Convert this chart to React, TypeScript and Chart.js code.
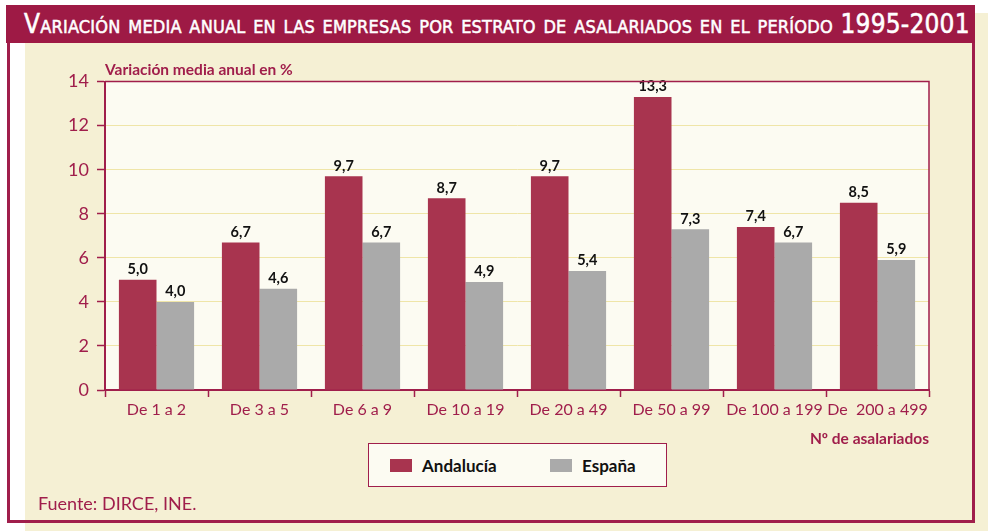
import React, { useEffect, useRef } from "react";
import { Chart, registerables } from "chart.js";

Chart.register(...registerables);

const categories = ["De 1 a 2", "De 3 a 5", "De 6 a 9", "De 10 a 19", "De 20 a 49", "De 50 a 99", "De 100 a 199", "De  200 a 499"];
const andalucia = [5.0, 6.7, 9.7, 8.7, 9.7, 13.3, 7.4, 8.5];
const espana = [4.0, 4.6, 6.7, 4.9, 5.4, 7.3, 6.7, 5.9];
const seriesNames = ["Andalucía", "España"];
const seriesColors = ["#a8344f", "#aaaaaa"];
const yTicksMax = 14;
const yTicksStep = 2;

const CRIMSON = "#a01e4b";
const FONT = "Lato, 'Open Sans', sans-serif";

export default function App() {
  const ref = useRef<HTMLCanvasElement | null>(null);

  useEffect(() => {
    document.body.style.margin = "0";
    const canvas = ref.current;
    if (!canvas) return;

    const bgPlugin = {
      id: "plotBg",
      beforeDraw(chart: any) {
        const { ctx, chartArea: a } = chart;
        ctx.save();
        ctx.fillStyle = "#fcfbf2";
        ctx.fillRect(a.left, a.top, a.right - a.left, a.bottom - a.top);
        ctx.restore();
      },
      afterDraw(chart: any) {
        const { ctx, chartArea: a } = chart;
        ctx.save();
        ctx.strokeStyle = CRIMSON;
        ctx.lineWidth = 1.5;
        ctx.beginPath();
        ctx.moveTo(a.left, a.top);
        ctx.lineTo(a.right, a.top);
        ctx.lineTo(a.right, a.bottom);
        ctx.stroke();
        ctx.restore();
      },
    };

    const labelPlugin = {
      id: "valueLabels",
      afterDatasetsDraw(chart: any) {
        const { ctx } = chart;
        ctx.save();
        ctx.font = `bold 14.5px ${FONT}`;
        ctx.fillStyle = "#111111";
        ctx.textAlign = "center";
        ctx.textBaseline = "bottom";
        chart.data.datasets.forEach((ds: any, i: number) => {
          const meta = chart.getDatasetMeta(i);
          meta.data.forEach((el: any, j: number) => {
            const v = ds.data[j] as number;
            ctx.fillText(v.toFixed(1).replace(".", ","), el.x, el.y - 3);
          });
        });
        ctx.restore();
      },
    };

    const chart = new Chart(canvas, {
      type: "bar",
      data: {
        labels: categories,
        datasets: [
          { label: seriesNames[0], data: andalucia, backgroundColor: seriesColors[0] },
          { label: seriesNames[1], data: espana, backgroundColor: seriesColors[1] },
        ],
      },
      options: {
        responsive: false,
        animation: false,
        devicePixelRatio: 1,
        layout: { padding: { left: 25, right: 59, top: 61, bottom: 83 } },
        datasets: { bar: { categoryPercentage: 0.73, barPercentage: 1 } },
        plugins: {
          legend: { display: false },
          tooltip: { enabled: false },
          title: {
            display: true,
            text: "Variación media anual en %",
            align: "start",
            fullSize: false,
            color: CRIMSON,
            font: { family: FONT, size: 15.5, weight: "bold" },
            padding: { top: 0, bottom: 2 },
          },
        },
        scales: {
          x: {
            grid: {
              display: true,
              drawOnChartArea: false,
              offset: true,
              tickLength: 7,
              tickColor: CRIMSON,
              tickWidth: 1.5,
            },
            border: { color: CRIMSON, width: 2 },
            ticks: { color: CRIMSON, font: { family: FONT, size: 16 }, padding: 3, maxRotation: 0, autoSkip: false },
            title: {
              display: true,
              text: "Nº de asalariados",
              align: "end",
              color: CRIMSON,
              font: { family: FONT, size: 15.5, weight: "bold" },
              padding: { top: 0, bottom: 0 },
            },
            afterFit(s: any) {
              s.height = 58;
            },
          },
          y: {
            min: 0,
            max: yTicksMax,
            ticks: { stepSize: yTicksStep, color: CRIMSON, font: { family: FONT, size: 18 }, padding: 8 },
            grid: { color: "#efe5a8", lineWidth: 1, tickColor: CRIMSON, tickLength: 8, tickWidth: 1.5 },
            border: { color: CRIMSON, width: 2 },
            afterFit(s: any) {
              s.width = 80;
            },
          },
        },
      },
      plugins: [bgPlugin, labelPlugin],
    } as any);
    return () => chart.destroy();
  }, []);

  return (
    <div style={{ position: "fixed", left: 0, top: 0, width: 988, height: 531, background: "#ffffff", overflow: "hidden" }}>
      <div style={{ position: "absolute", left: 25, top: 13, width: 963, height: 518, background: "#f5f0d4" }} />
      <div
        style={{
          position: "absolute",
          left: 7,
          top: 40,
          width: 962,
          height: 480,
          borderLeft: `3px solid ${CRIMSON}`,
          borderRight: `3px solid ${CRIMSON}`,
          borderBottom: `3px solid ${CRIMSON}`,
        }}
      />
      <div
        style={{
          position: "absolute",
          left: 6,
          top: 5,
          width: 969,
          height: 38,
          background: "#9e1a45",
          color: "#ffffff",
          fontFamily: "'Liberation Sans Narrow', 'DejaVu Sans Condensed', 'Open Sans', sans-serif",
          fontVariant: "small-caps",
          fontSize: 26,
          letterSpacing: 0.2,
          WebkitTextStroke: "0.5px #ffffff",
          lineHeight: "38px",
          paddingLeft: 18,
          boxSizing: "border-box",
          whiteSpace: "nowrap",
        }}
      >
        Variación media anual en las empresas por estrato de asalariados en el período 1995-2001
      </div>
      <canvas ref={ref} width={988} height={531} style={{ position: "absolute", left: 0, top: 0 }} />
      <div
        style={{
          position: "absolute",
          left: 368,
          top: 443,
          width: 299,
          height: 44,
          boxSizing: "border-box",
          border: `1.5px solid ${CRIMSON}`,
          background: "#fcfbf2",
          fontFamily: FONT,
          fontWeight: "bold",
          fontSize: 17,
          color: "#111111",
        }}
      >
        {seriesNames.map((n, i) => (
          <div key={n} style={{ position: "absolute", left: i === 0 ? 21 : 181, top: 10, display: "flex", alignItems: "center", height: 22 }}>
            <span style={{ display: "inline-block", width: 22, height: 13, background: seriesColors[i], marginRight: 10 }} />
            <span>{n}</span>
          </div>
        ))}
      </div>
      <div style={{ position: "absolute", left: 38, top: 492, fontFamily: FONT, fontSize: 18, color: CRIMSON }}>Fuente: DIRCE, INE.</div>
    </div>
  );
}
